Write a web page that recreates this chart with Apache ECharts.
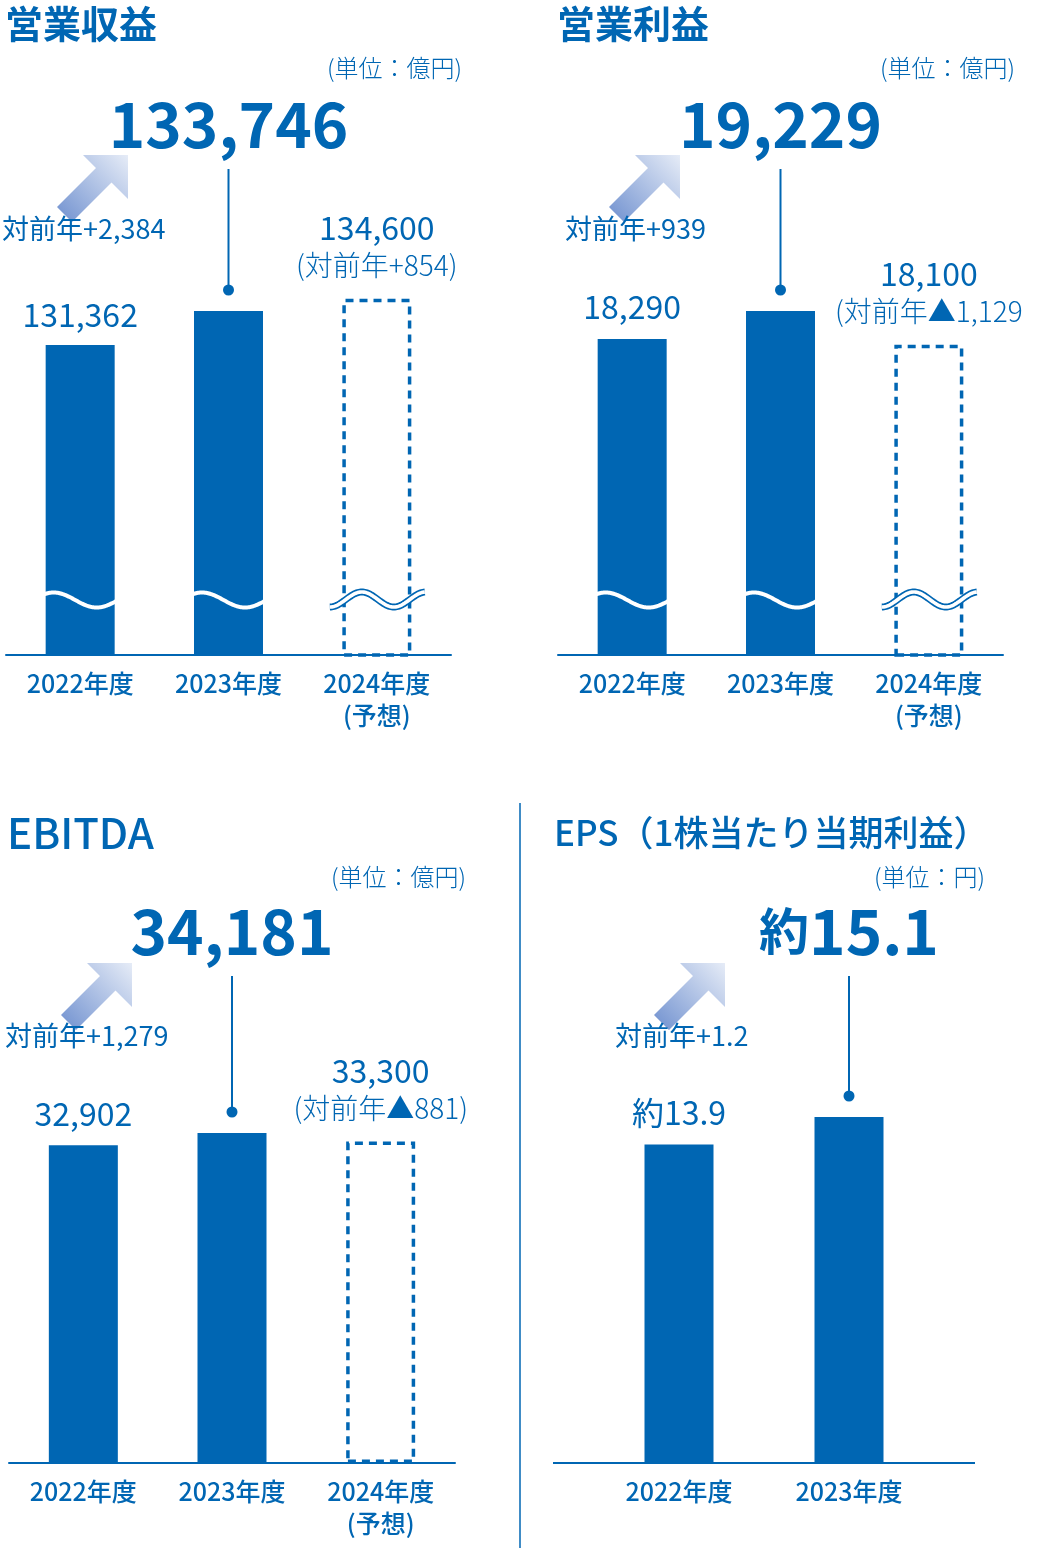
<!DOCTYPE html>
<html><head><meta charset="utf-8">
<script src="https://cdn.jsdelivr.net/npm/echarts@6/dist/echarts.min.js"></script>
<style>html,body{margin:0;padding:0;background:#fff}#c{width:1039px;height:1554px}</style>
</head><body><div id="c"></div>
<script>
// ---------- data ----------
const categories3 = ['2022年度', '2023年度', '2024年度\n(予想)'];
const categories2 = ['2022年度', '2023年度'];
const revenue  = [131362, 133746, 134600];
const opProfit = [18290, 19229, 18100];
const ebitda   = [32902, 34181, 33300];
const eps      = [13.9, 15.1];
const revChange    = ['対前年+2,384', '(対前年+854)'];
const opChange     = ['対前年+939', '(対前年▲1,129'];
const ebitdaChange = ['対前年+1,279', '(対前年▲881)'];
const epsChange    = ['対前年+1.2'];
const titles = ['営業収益', '営業利益', 'EBITDA', 'EPS（1株当たり当期利益）'];
const units  = ['(単位：億円)', '(単位：億円)', '(単位：億円)', '(単位：円)'];

// ---------- style / layout ----------
const BLUE = '#0066b3';
const FONT = '"Noto Sans CJK JP", "Noto Sans", sans-serif';
const fmtInt = v => v.toLocaleString('en-US');
const fmtEps = v => '約' + v.toFixed(1);
const fmtIntBig = v => '{n|' + v.toLocaleString('en-US') + '}';
const fmtEpsBig = v => '{p|約}{n|' + v.toFixed(1) + '}';

const panels = [
  { values: revenue, cats: categories3, changes: revChange, fmt: fmtInt, fmtBig: fmtIntBig,
    grid: { left: 6, top: 95, width: 445, height: 560 }, yMin: 109600, yMax: 148907,
    smallDist: 14, bigDist: 155, wave: true, axisLine: true,
    title: { x: 5, y: 24, size: 38, weight: 'bold' }, unit: { x: 462, y: 68 },
    arrow: [128, 155], change: { x: 2, y: 229 } },
  { values: opProfit, cats: categories3, changes: opChange, fmt: fmtInt, fmtBig: fmtIntBig,
    grid: { left: 558, top: 95, width: 445, height: 560 }, yMin: 7690, yMax: 26474,
    smallDist: 16, bigDist: 155, wave: true, axisLine: true,
    title: { x: 557, y: 24, size: 38, weight: 'bold' }, unit: { x: 1015, y: 68 },
    arrow: [680, 155], change: { x: 565, y: 229 } },
  { values: ebitda, cats: categories3, changes: ebitdaChange, fmt: fmtInt, fmtBig: fmtIntBig,
    grid: { left: 9, top: 903, width: 446, height: 560 }, yMin: 0, yMax: 58004,
    smallDist: 16, bigDist: 170, wave: false, axisLine: true,
    title: { x: 7, y: 833, size: 42, weight: 500 }, unit: { x: 466, y: 877 },
    arrow: [132, 963], change: { x: 5, y: 1036 } },
  { values: eps, cats: categories2, changes: epsChange, fmt: fmtEps, fmtBig: fmtEpsBig,
    grid: { left: 594, top: 903, width: 340, height: 560 }, yMin: 0, yMax: 24.44,
    smallDist: 16, bigDist: 154, wave: false, axisLine: false,
    title: { x: 554, y: 833, size: 35, weight: 500 }, unit: { x: 985, y: 877 },
    arrow: [725, 963], change: { x: 615, y: 1036 } }
];

const chart = echarts.init(document.getElementById('c'), null, { renderer: 'canvas' });

const grids = [], xAxes = [], yAxes = [], series = [];
panels.forEach((p, i) => {
  grids.push(Object.assign({}, p.grid));
  xAxes.push({
    type: 'category', gridIndex: i, data: p.cats,
    axisTick: { show: false },
    axisLine: { show: p.axisLine, lineStyle: { color: BLUE, width: 2 } },
    axisLabel: { color: BLUE, fontSize: 25, fontWeight: 500, lineHeight: 32, margin: 12, fontFamily: FONT }
  });
  yAxes.push({ type: 'value', gridIndex: i, min: p.yMin, max: p.yMax, show: false, splitLine: { show: false } });
  const data = p.values.map((v, j) => {
    if (j === 0) {
      return { value: v, label: { show: true, position: 'top', distance: p.smallDist,
        formatter: p.fmt(v), color: BLUE, fontSize: 32, fontFamily: FONT } };
    }
    if (j === 1) {
      return { value: v, label: { show: true, position: 'top', distance: p.bigDist,
        formatter: p.fmtBig(v),
        rich: {
          n: { color: BLUE, fontSize: 62, fontWeight: 'bold', fontFamily: FONT, lineHeight: 64 },
          p: { color: BLUE, fontSize: 50, fontWeight: 'bold', fontFamily: FONT, lineHeight: 64 }
        } } };
    }
    return { value: v,
      itemStyle: { color: 'rgba(255,255,255,0)', borderColor: BLUE, borderWidth: 3.5, borderType: [8, 6] },
      label: { show: true, position: 'top', distance: 14,
        formatter: '{a|' + p.fmt(v) + '}\n{b|' + p.changes[1] + '}',
        rich: {
          a: { fontSize: 32, lineHeight: 38, color: BLUE, fontFamily: FONT },
          b: { fontSize: 28, lineHeight: 38, color: BLUE, fontFamily: FONT, fontWeight: 300 }
        } } };
  });
  series.push({
    type: 'bar', xAxisIndex: i, yAxisIndex: i, barWidth: 69, data: data,
    itemStyle: { color: BLUE }, silent: true
  });
});

chart.setOption({
  animation: false,
  backgroundColor: '#fff',
  grid: grids, xAxis: xAxes, yAxis: yAxes, series: series
});

// ---------- decorations computed through the chart's scales ----------
const graphics = [];
function txt(text, x, y, size, weight, align, z) {
  graphics.push({ type: 'text', z: z || 20, style: { text: text, x: x, y: y, fill: BLUE,
    fontSize: size, fontWeight: weight, fontFamily: FONT, align: align || 'left', verticalAlign: 'middle' } });
}
function arrow(tx, ty) {
  const rel = [[0, 0], [0, 44], [-16.5, 27.5], [-56, 67], [-71, 52], [-32, 13], [-45, 0]];
  graphics.push({ type: 'polygon', z: 10,
    shape: { points: rel.map(q => [tx + q[0], ty + q[1]]) },
    style: { fill: new echarts.graphic.LinearGradient(0, 1, 1, 0, [
      { offset: 0, color: '#6f90cf' }, { offset: 1, color: '#e6ecf7' }]) } });
}
function solidWave(L, y0) {
  const pts = [];
  for (let dx = -2; dx <= 71; dx += 1) {
    pts.push([L + dx, y0 + 4 - 7.5 * Math.cos(Math.PI * (dx - 8) / 43)]);
  }
  graphics.push({ type: 'polyline', z: 100, shape: { points: pts, smooth: 0 },
    style: { stroke: '#fff', lineWidth: 4, fill: null } });
}
function dashedWave(L, c) {
  const pts = [];
  for (let dx = -12; dx <= 83; dx += 1) {
    pts.push([L + dx, c - 7.5 * Math.cos(Math.PI * (dx - 20) / 32)]);
  }
  graphics.push({ type: 'polyline', z: 100, shape: { points: pts },
    style: { stroke: BLUE, lineWidth: 7, fill: null, lineCap: 'butt' } });
  graphics.push({ type: 'polyline', z: 101, shape: { points: pts },
    style: { stroke: '#fff', lineWidth: 3.6, fill: null, lineCap: 'butt' } });
}

panels.forEach((p, i) => {
  const axisY = chart.convertToPixel({ gridIndex: i }, [0, p.yMin])[1];
  const pt23 = chart.convertToPixel({ gridIndex: i }, [1, p.values[1]]);
  // leader line + dot
  graphics.push({ type: 'line', z: 15,
    shape: { x1: pt23[0], y1: pt23[1] - p.bigDist + 13, x2: pt23[0], y2: pt23[1] - 21 },
    style: { stroke: BLUE, lineWidth: 2 } });
  graphics.push({ type: 'circle', z: 15, shape: { cx: pt23[0], cy: pt23[1] - 21, r: 5.5 }, style: { fill: BLUE } });
  // break marks
  if (p.wave) {
    [0, 1].forEach(j => {
      const cx = chart.convertToPixel({ gridIndex: i }, [j, p.values[j]])[0];
      solidWave(cx - 34.5, axisY - 59);
    });
    const cx3 = chart.convertToPixel({ gridIndex: i }, [2, p.values[2]])[0];
    dashedWave(cx3 - 35, axisY - 55.5);
  }
  if (!p.axisLine) {
    graphics.push({ type: 'line', z: 15, shape: { x1: 553, y1: axisY, x2: 975, y2: axisY },
      style: { stroke: BLUE, lineWidth: 2 } });
  }
  arrow(p.arrow[0], p.arrow[1]);
  txt(p.changes[0], p.change.x, p.change.y, 27, 'normal', 'left', 12);
  txt(titles[i], p.title.x, p.title.y, p.title.size, p.title.weight, 'left', 12);
  txt(units[i], p.unit.x, p.unit.y, 24, 300, 'right', 12);
});
// divider between lower panels
graphics.push({ type: 'line', z: 15, shape: { x1: 520, y1: 803, x2: 520, y2: 1548 },
  style: { stroke: BLUE, lineWidth: 1.5 } });

chart.setOption({ graphic: graphics });
</script>
</body></html>
